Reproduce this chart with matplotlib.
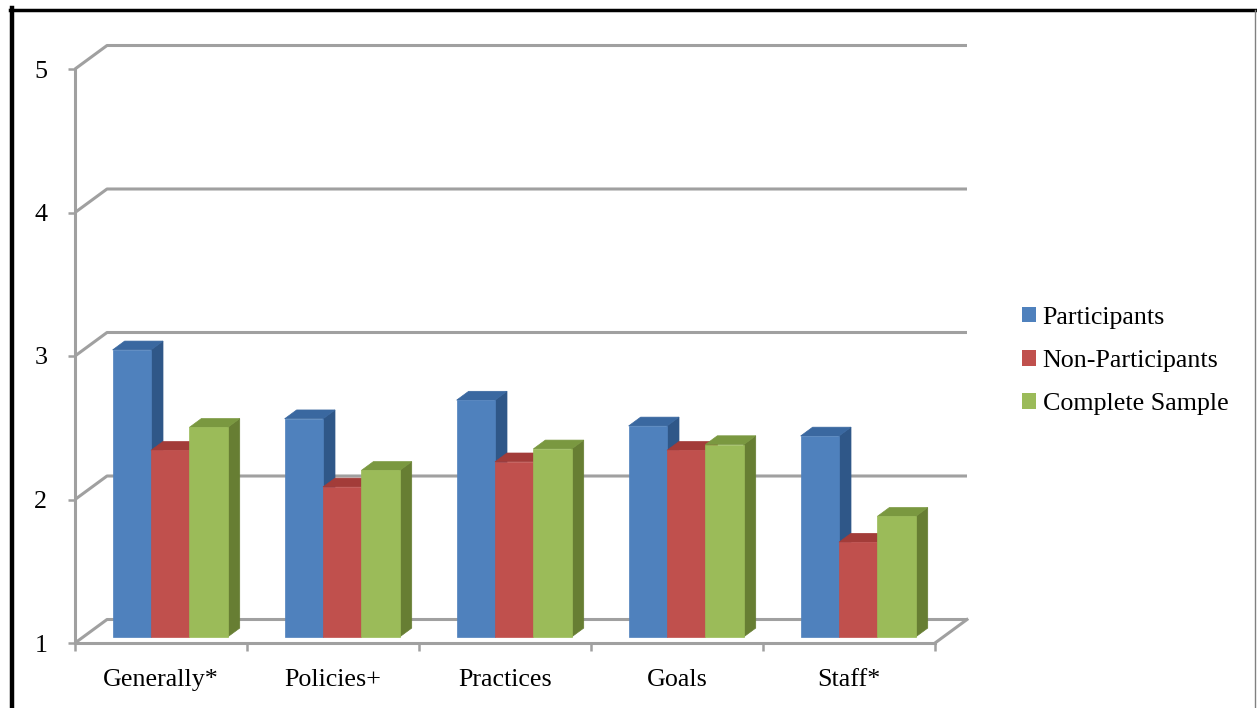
import matplotlib.pyplot as plt
from matplotlib.patches import Rectangle, Polygon
from matplotlib.lines import Line2D

plt.rcParams['font.family'] = ['Liberation Serif', 'DejaVu Serif']

## data
categories = ["Generally*", "Policies+", "Practices", "Goals", "Staff*"]
series_names = ["Participants", "Non-Participants", "Complete Sample"]
participants = [3.00, 2.52, 2.65, 2.47, 2.40]
non_participants = [2.30, 2.045, 2.22, 2.30, 1.66]
complete_sample = [2.46, 2.16, 2.31, 2.34, 1.84]
yticks = [1, 2, 3, 4, 5]

values = [participants, non_participants, complete_sample]
## front, side, top colours (excel 2007 style)
colors = [("#4F81BD", "#2F5788", "#3A68A0"),
          ("#C0504D", "#8E3331", "#A33C39"),
          ("#9BBB59", "#677E33", "#7A9840")]
grid_col = "#A0A0A0"

W, H = 1257, 708
fig = plt.figure(figsize=(W / 100, H / 100), dpi=100)
ax = fig.add_axes([75 / W, (H - 643) / H, (935 - 75) / W, (643 - 69) / H])
ax.set_xlim(0, len(categories))
ax.set_ylim(1, 5)

## oblique depth of the walls, in data units
DX = 32 / 172
DY = 23.5 / 143.5
f = 0.26          # depth where bar front faces sit
bd = 0.375        # bar depth as fraction of wall depth
w = 0.223         # bar width
fx, fy = f * DX, f * DY
bdx, bdy = bd * DX, bd * DY

## back wall / left wall gridlines
n = len(categories)
for v in yticks:
    ax.plot([0, DX, n + DX], [v, v + DY, v + DY], color=grid_col, lw=2.2,
            clip_on=False, zorder=1, solid_capstyle='butt')
## right edge of floor
ax.plot([n, n + DX], [1, 1 + DY], color=grid_col, lw=2.2, clip_on=False, zorder=1)

## bars
for i in range(n):
    for j, vals in enumerate(values):
        v = vals[i]
        front, side, top = colors[j]
        x0 = i + 0.5 + (j - 1.5) * w + fx + 0.005
        y0 = 1 + fy
        yt = v + fy
        ax.add_patch(Polygon([(x0 + w, y0), (x0 + w + bdx, y0 + bdy),
                              (x0 + w + bdx, yt + bdy), (x0 + w, yt)],
                             closed=True, fc=side, ec=side, lw=0.5,
                             clip_on=False, zorder=3))
        ax.add_patch(Polygon([(x0, yt), (x0 + bdx, yt + bdy),
                              (x0 + w + bdx, yt + bdy), (x0 + w, yt)],
                             closed=True, fc=top, ec=top, lw=0.5,
                             clip_on=False, zorder=3))
        ax.add_patch(Rectangle((x0, y0), w, v - 1, fc=front, ec=front, lw=0.5,
                               clip_on=False, zorder=3))

## axes styling
for s in ["top", "right"]:
    ax.spines[s].set_visible(False)
for s in ["left", "bottom"]:
    ax.spines[s].set_color(grid_col)
    ax.spines[s].set_linewidth(2.2)
    ax.spines[s].set_zorder(1)

ax.set_yticks(yticks)
ax.set_yticklabels([str(t) for t in yticks])
ax.tick_params(axis='y', length=5, width=1.8, color=grid_col, pad=15,
               labelsize=18.7)
ax.set_xticks(range(n + 1))
ax.set_xticklabels([])
ax.set_xticks([i + 0.5 for i in range(n)], minor=True)
ax.set_xticklabels(categories, minor=True)
ax.tick_params(axis='x', which='major', length=6, width=1.8, color=grid_col,
               direction='out')
ax.tick_params(axis='x', which='minor', length=0, pad=19, labelsize=18.7)
ax.patch.set_visible(False)

## legend
handles = [Rectangle((0, 0), 1, 1, fc=c[0], ec='none') for c in colors]
fig.legend(handles, series_names, loc='center left',
           bbox_to_anchor=(1022 / W, 1 - 361 / H), frameon=False,
           fontsize=18.7, handlelength=0.55, handleheight=0.55,
           handletextpad=0.25, labelspacing=0.82, borderpad=0, borderaxespad=0)

## outer frame
fig.add_artist(Line2D([12 / W, 12 / W], [0, 1 - 8 / H], color='black', lw=3.2,
                      transform=fig.transFigure))
fig.add_artist(Line2D([10 / W, 1255 / W], [1 - 9.5 / H, 1 - 9.5 / H],
                      color='black', lw=2.5, transform=fig.transFigure))
fig.add_artist(Line2D([1255 / W, 1255 / W], [0, 1 - 9.5 / H], color='#808080',
                      lw=1, transform=fig.transFigure))

fig.savefig("out.png", dpi=100)
